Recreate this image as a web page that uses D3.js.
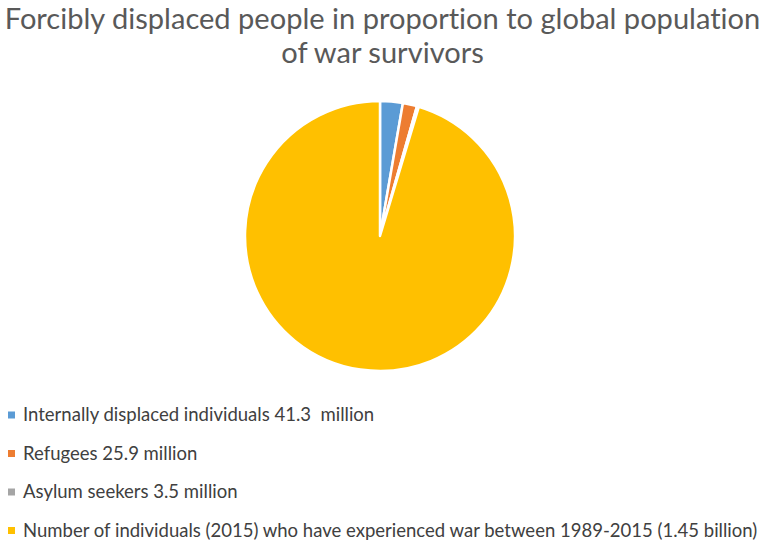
<!DOCTYPE html>
<html><head><meta charset="utf-8">
<script src="https://cdn.jsdelivr.net/npm/d3@7"></script>
<style>body{margin:0;background:#fff}svg{display:block}text{white-space:pre;font-variant-ligatures:none}</style>
</head><body>
<svg id="c" width="765" height="542"></svg>
<script>
const titleLines = ["Forcibly displaced people in proportion to global population", "of war survivors"];
const categories = ["Internally displaced individuals 41.3  million", "Refugees 25.9 million", "Asylum seekers 3.5 million", "Number of individuals (2015) who have experienced war between 1989-2015 (1.45 billion)"];
const values = [41.3, 25.9, 3.5, 1450];
const colors = ["#5B9BD5", "#ED7D31", "#A5A5A5", "#FFC000"];

const svg = d3.select("#c");
const W = 765;
const font = "Lato, 'Open Sans', sans-serif";

// title
const title = svg.append("g");
const t1 = title.append("text").attr("x", W/2).attr("y", 29).attr("text-anchor","middle")
  .attr("font-family", font).attr("font-size", 26).attr("fill","#595959").text(titleLines[0]);
const w1 = t1.node().getComputedTextLength();
const tfs = 26 * 756 / w1;
t1.attr("font-size", tfs);
title.append("text").attr("x", W/2).attr("y", 63).attr("text-anchor","middle")
  .attr("font-family", font).attr("font-size", tfs).attr("fill","#595959").text(titleLines[1]);

// pie
const cx = 380, cy = 236, r = 135;
const pie = d3.pie().sort(null).value(d => d)(values);
const arc = d3.arc().innerRadius(0).outerRadius(r);
const g = svg.append("g").attr("transform", `translate(${cx},${cy})`);
g.selectAll("path").data(pie).join("path")
  .attr("d", arc)
  .attr("fill", (d,i) => colors[i])
  .attr("stroke", "#fff").attr("stroke-width", 2.5).attr("stroke-linejoin","round");

// legend
const ly0 = 415, ldy = 38.5;
const leg = svg.append("g");
const items = leg.selectAll("g").data(categories).join("g")
  .attr("transform", (d,i) => `translate(0,${ly0 + i*ldy})`);
items.append("rect").attr("x", 8).attr("y", -3.5).attr("width", 7).attr("height", 7)
  .attr("fill", (d,i) => colors[i]);
const texts = items.append("text").attr("x", 23).attr("y", 6)
  .attr("xml:space", "preserve")
  .attr("font-family", font).attr("font-size", 17).attr("fill","#404040").text(d => d);
const wl = texts.nodes()[3].getComputedTextLength();
const lfs = 17 * 735 / wl;
texts.attr("font-size", lfs);
</script>
</body></html>
